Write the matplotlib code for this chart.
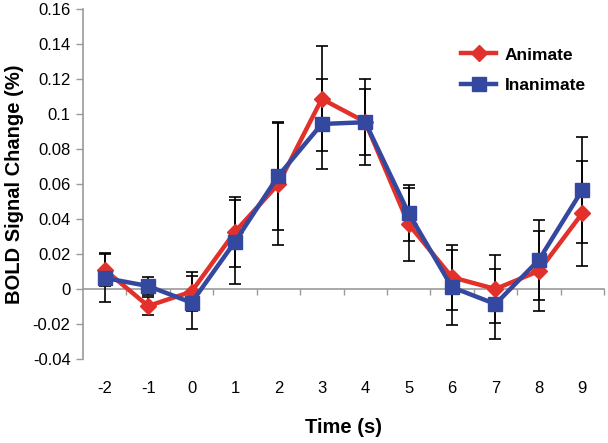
import numpy as np
import matplotlib.pyplot as plt

plt.rcParams['font.family'] = ['Liberation Sans', 'DejaVu Sans']

times = ['-2', '-1', '0', '1', '2', '3', '4', '5', '6', '7', '8', '9']
animate = [0.011, -0.0097, -0.0015, 0.0327, 0.060, 0.1086, 0.0955, 0.037, 0.0067, 0.0, 0.0103, 0.0433]
animate_err = [0.009, 0.005, 0.011, 0.020, 0.035, 0.030, 0.019, 0.021, 0.0185, 0.0195, 0.023, 0.030]
inanimate = [0.0063, 0.0017, -0.0078, 0.027, 0.0647, 0.0943, 0.0953, 0.0433, 0.001, -0.0086, 0.0166, 0.0566]
inanimate_err = [0.014, 0.005, 0.015, 0.024, 0.031, 0.0255, 0.0245, 0.016, 0.0213, 0.020, 0.0228, 0.0305]
yticks = [-0.04, -0.02, 0, 0.02, 0.04, 0.06, 0.08, 0.1, 0.12, 0.14, 0.16]

red = '#e2312b'
blue = '#3548a0'
axis_gray = '#9a9a9a'

fig = plt.figure(figsize=(6.08, 4.43), dpi=100)
ax = fig.add_axes([83 / 608, 84 / 443, 521 / 608, 350 / 443])

x = np.arange(len(times))

# error bars behind the lines
ax.errorbar(x, animate, yerr=animate_err, fmt='none', ecolor='black',
            elinewidth=1.2, capsize=4, capthick=1.2, zorder=2)
ax.errorbar(x, inanimate, yerr=inanimate_err, fmt='none', ecolor='black',
            elinewidth=1.2, capsize=4, capthick=1.2, zorder=2)

ax.plot(x, animate, color=red, lw=3.2, marker='D', ms=8, mec=red,
        label='Animate', zorder=3)
ax.plot(x, inanimate, color=blue, lw=3.2, marker='s', ms=10, mec=blue,
        label='Inanimate', zorder=4)

ax.set_xlim(-0.5, len(times) - 0.5)
ax.set_ylim(-0.04, 0.16)

# y axis
ax.set_yticks(yticks)
ax.set_yticklabels([f'{v:g}' for v in yticks], fontsize=12)
ax.tick_params(axis='y', direction='out', length=5, width=1, color=axis_gray, pad=4)
ax.spines['left'].set_color(axis_gray)
ax.spines['left'].set_linewidth(1.2)
for s in ['top', 'right', 'bottom']:
    ax.spines[s].set_visible(False)

# category labels at the bottom
ax.set_xticks(x)
ax.set_xticklabels(times, fontsize=12)
ax.tick_params(axis='x', length=0, pad=16)

# x axis line crossing at zero with ticks at category boundaries
sec = ax.secondary_xaxis(0.2)
sec.set_xticks(np.arange(len(times)) + 0.5)
sec.set_xticklabels([])
sec.tick_params(direction='out', length=4, width=1, color=axis_gray)
sec.spines['bottom'].set_color(axis_gray)
sec.spines['bottom'].set_linewidth(1.2)

ax.set_ylabel('BOLD Signal Change (%)', fontsize=14.5, fontweight='bold', labelpad=6)
ax.set_xlabel('Time (s)', fontsize=14.5, fontweight='bold', labelpad=16)

leg = ax.legend(loc='upper right', bbox_to_anchor=(0.995, 0.935), frameon=False,
                prop={'weight': 'bold', 'size': 12.5}, handlelength=2.0,
                labelspacing=0.9, handletextpad=0.5)

fig.savefig('out.png', dpi=100)
